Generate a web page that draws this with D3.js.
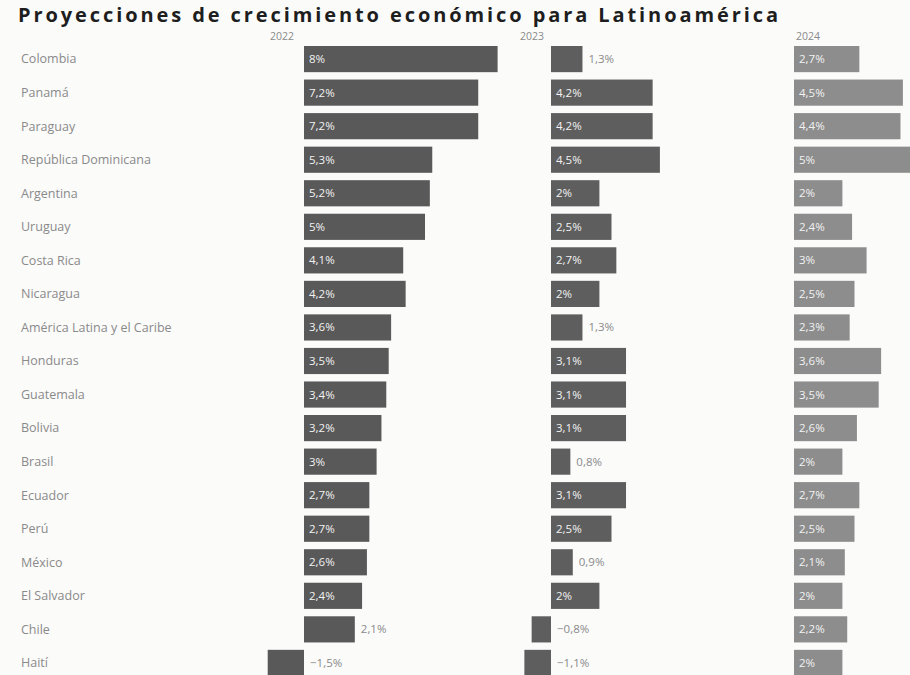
<!DOCTYPE html>
<html>
<head>
<meta charset="utf-8">
<script src="https://cdn.jsdelivr.net/npm/d3@7"></script>
<style>
  html, body { margin: 0; padding: 0; background: #fbfbfa; }
  svg { display: block; }
</style>
</head>
<body>
<svg id="chart" width="910" height="675"></svg>
<script>
const title = "Proyecciones de crecimiento económico para Latinoamérica";
const years = ["2022", "2023", "2024"];
const countries = ["Colombia", "Panamá", "Paraguay", "República Dominicana", "Argentina", "Uruguay", "Costa Rica", "Nicaragua", "América Latina y el Caribe", "Honduras", "Guatemala", "Bolivia", "Brasil", "Ecuador", "Perú", "México", "El Salvador", "Chile", "Haití"];
const growth2022 = [8, 7.2, 7.2, 5.3, 5.2, 5, 4.1, 4.2, 3.6, 3.5, 3.4, 3.2, 3, 2.7, 2.7, 2.6, 2.4, 2.1, -1.5];
const growth2023 = [1.3, 4.2, 4.2, 4.5, 2, 2.5, 2.7, 2, 1.3, 3.1, 3.1, 3.1, 0.8, 3.1, 2.5, 0.9, 2, -0.8, -1.1];
const growth2024 = [2.7, 4.5, 4.4, 5, 2, 2.4, 3, 2.5, 2.3, 3.6, 3.5, 2.6, 2, 2.7, 2.5, 2.1, 2, 2.2, 2];
const outsideLabels2022 = ["Chile", "Haití"];
const outsideLabels2023 = ["Colombia", "América Latina y el Caribe", "Brasil", "México", "Chile", "Haití"];
const outsideLabels2024 = [];

const series = [
  { year: years[0], values: growth2022, outside: outsideLabels2022, zero: 304, color: "#595959" },
  { year: years[1], values: growth2023, outside: outsideLabels2023, zero: 551, color: "#5e5e5e" },
  { year: years[2], values: growth2024, outside: outsideLabels2024, zero: 794, color: "#8d8d8d" }
];

const svg = d3.select("#chart");
const pxPerPoint = 24.2;

const y = d3.scaleBand()
  .domain(countries)
  .range([46, 676])
  .paddingInner(0.22)
  .paddingOuter(0.0);

const fmt = v => (v < 0 ? "\u2212" : "") + String(Math.abs(v)).replace(".", ",") + "%";

// title
svg.append("text")
  .attr("x", 18).attr("y", 22)
  .attr("font-family", "'Open Sans', 'DejaVu Sans', sans-serif")
  .attr("font-size", 20).attr("font-weight", 700)
  .attr("fill", "#1e1e1e")
  .attr("textLength", 760)
  .attr("lengthAdjust", "spacing")
  .text(title);

// category labels
svg.append("g").selectAll("text")
  .data(countries).join("text")
  .attr("x", 21)
  .attr("y", d => y(d) + y.bandwidth() / 2)
  .attr("dy", "0.35em")
  .attr("font-family", "'Open Sans', 'DejaVu Sans', sans-serif")
  .attr("font-size", 12.5)
  .attr("fill", "#8a8a8a")
  .text(d => d);

const headerX = [282, 532, 808];

series.forEach((s, si) => {
  const x = d3.scaleLinear().domain([0, 1]).range([s.zero, s.zero + pxPerPoint]);
  const g = svg.append("g");
  g.append("text")
    .attr("x", headerX[si]).attr("y", 40)
    .attr("text-anchor", "middle")
    .attr("font-family", "'Open Sans', 'DejaVu Sans', sans-serif")
    .attr("font-size", 10.5)
    .attr("fill", "#8a8a8a")
    .text(s.year);

  const rows = countries.map((c, i) => ({ c, v: s.values[i], out: s.outside.includes(c) }));
  g.selectAll("rect").data(rows).join("rect")
    .attr("x", d => x(Math.min(0, d.v)))
    .attr("y", d => y(d.c))
    .attr("width", d => Math.abs(x(d.v) - x(0)))
    .attr("height", y.bandwidth())
    .attr("fill", s.color);

  g.selectAll("text.val").data(rows).join("text")
    .attr("class", "val")
    .attr("x", d => d.out ? x(Math.max(0, d.v)) + 6 : x(0) + 5)
    .attr("y", d => y(d.c) + y.bandwidth() / 2)
    .attr("dy", "0.35em")
    .attr("font-family", "'Open Sans', 'DejaVu Sans', sans-serif")
    .attr("font-size", 11.5)
    .attr("fill", d => d.out ? "#8a8a8a" : "#f2f2f2")
    .text(d => fmt(d.v));
});
</script>
</body>
</html>
